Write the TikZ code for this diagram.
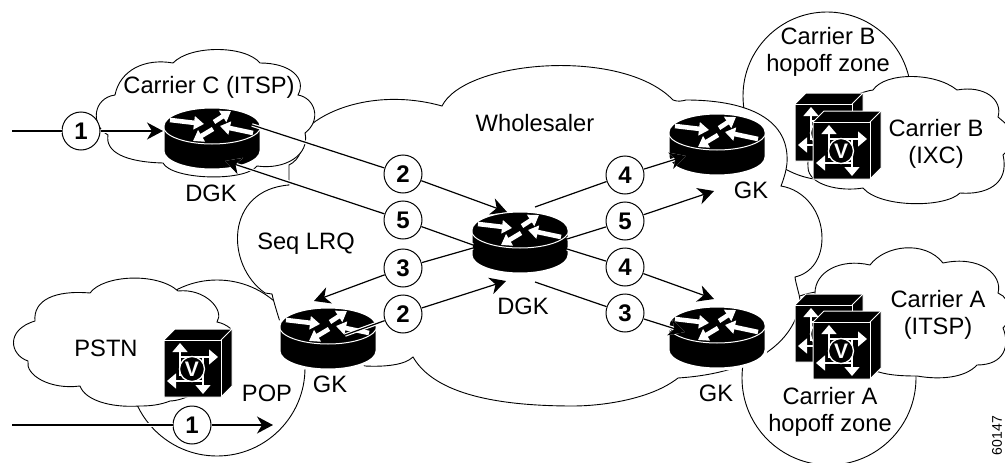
\documentclass[tikz,border=0pt]{standalone}
\usepackage{fontspec}
\setmainfont{Liberation Sans}
\usetikzlibrary{arrows.meta}

\tikzset{
	zone/.style={draw,fill=white,line width=0.9pt},
	lbl/.style={font=\fontsize{23.7}{27}\selectfont,align=center,inner sep=0pt},
	num/.style={circle,draw,fill=white,line width=1pt,minimum size=38pt,inner sep=0pt,font=\bfseries\fontsize{24}{24}\selectfont},
	link/.style={line width=1.2pt,preaction={draw,white,line width=3.6pt}},
	linkto/.style={link,-{Stealth[length=16pt,width=17pt,inset=5pt]}},
	rarrow/.style={white,line width=4.6pt,-{Triangle[length=10pt,width=13pt]}},
	garrow/.style={white,line width=1.3pt,-{Triangle[length=9pt,width=15pt]}}
}

\newcommand{\routerdev}[3]{
	\node[minimum width=98pt,minimum height=63pt,inner sep=0pt] (#1) at (#2,#3+12.5) {};
	\begin{scope}[shift={(#2,#3)}]
		\draw[fill=black,draw=white,line width=3pt] (-49,0) arc [start angle=180,end angle=360,x radius=49,y radius=19] -- (49,25) arc [start angle=0,end angle=180,x radius=49,y radius=19] -- cycle;
		\draw[white,line width=1pt] (-49,0) arc [start angle=180,end angle=0,x radius=49,y radius=18];
		\draw[rarrow] (-42,-6) -- (-8,-2);
		\draw[rarrow] (2,-4) -- (19,-15);
		\draw[rarrow] (41,7) -- (8,0);
		\draw[rarrow] (1,3) -- (-19,15);
	\end{scope}
}

\newcommand{\gatewaydev}[3]{
	\begin{scope}[shift={(#2,#3)}]
		\draw[fill=black,draw=white,line width=1pt] (0,0) -- (11,-11) -- (68,-11) -- (68,46) -- (57,57) -- (0,57) -- cycle;
		\draw[white,line width=1pt] (0,0) -- (57,0) -- (57,57);
		\draw[white,line width=1pt] (57,0) -- (68,-11);
		\draw[garrow] (16,36) -- (16,3);
		\draw[garrow] (16,17) -- (54,17);
		\draw[garrow] (39,17) -- (39,54);
		\draw[garrow] (39,41) -- (3,41);
		\node[circle,draw=white,fill=black,line width=1.3pt,minimum size=25pt,inner sep=0pt,text=white,font=\bfseries\fontsize{21}{21}\selectfont] (#1) at (28,29) {V};
	\end{scope}
}

\begin{document}
\begin{tikzpicture}[x=1pt,y=-1pt]
	\useasboundingbox (0,0) rectangle (1005,463);

	\draw[zone] (217,368) circle [radius=88];
	\draw[zone] (827,96) circle [radius=84];
	\draw[zone] (829,378) circle [radius=87];

	\draw[zone] (289,185) -- (289,165) .. controls (300,160) and (305,145) .. (305,130)
		.. controls (330,105) and (385,90) .. (442,106)
		.. controls (465,60) and (622,47) .. (673,100)
		.. controls (678,102) and (682,101) .. (686,100)
		.. controls (740,100) and (790,115) .. (787,163)
		.. controls (786,172) and (784,178) .. (781,186)
		.. controls (805,190) and (822,212) .. (822,238)
		.. controls (822,258) and (812,273) .. (795,277)
		.. controls (796,285) and (799,292) .. (800,300)
		.. controls (798,330) and (770,372) .. (678,378)
		.. controls (650,400) and (600,406) .. (573,406)
		.. controls (500,406) and (435,395) .. (413,357)
		.. controls (405,365) and (385,367) .. (365,366)
		-- (280,322)
		.. controls (277,312) and (274,303) .. (272,294)
		-- (265,293)
		.. controls (225,265) and (225,190) .. (289,185) -- cycle;

	\draw[zone] (115,95) .. controls (93,98) and (90,125) .. (108,135)
		.. controls (105,152) and (125,162) .. (163,163)
		.. controls (172,180) and (245,182) .. (257,166)
		.. controls (285,170) and (310,155) .. (305,133)
		.. controls (322,120) and (315,98) .. (298,95)
		.. controls (307,78) and (290,63) .. (260,63)
		.. controls (245,45) and (190,45) .. (173,63)
		.. controls (145,58) and (120,70) .. (115,95) -- cycle;

	\draw[zone] (35,321) .. controls (33,300) and (55,290) .. (90,293)
		.. controls (103,275) and (157,272) .. (178,291)
		.. controls (205,288) and (225,310) .. (217,322)
		.. controls (222,323) and (226,325) .. (230,328)
		.. controls (240,360) and (200,400) .. (170,401)
		.. controls (160,405) and (150,406) .. (140,406)
		.. controls (110,408) and (85,400) .. (80,386)
		.. controls (50,390) and (25,375) .. (28,361)
		.. controls (10,355) and (5,330) .. (35,321) -- cycle;

	\draw[zone] (873,90) .. controls (885,72) and (935,72) .. (957,90)
		.. controls (985,85) and (1003,100) .. (998,117)
		-- (1005,123)
		.. controls (1012,135) and (1010,150) .. (1003,155)
		.. controls (1010,185) and (985,195) .. (960,193)
		.. controls (945,208) and (880,208) .. (863,188)
		.. controls (840,192) and (808,185) .. (808,167)
		.. controls (806,130) and (840,95) .. (873,90) -- cycle;

	\draw[zone] (815,293) .. controls (815,272) and (840,258) .. (870,265)
		.. controls (885,245) and (925,240) .. (943,263)
		.. controls (980,255) and (1003,275) .. (998,293)
		-- (1003,296)
		.. controls (1012,305) and (1012,320) .. (1003,328)
		.. controls (1010,345) and (1005,365) .. (977,365)
		.. controls (965,378) and (940,380) .. (917,376)
		.. controls (900,376) and (885,375) .. (873,370)
		.. controls (850,370) and (815,340) .. (815,293) -- cycle;

	\routerdev{rtc}{212}{126}
	\routerdev{rtm}{520}{230}
	\routerdev{rtb}{717}{132}
	\routerdev{rta}{717}{325}
	\routerdev{rtp}{328}{326}

	\gatewaydev{gwp}{164}{340}
	\gatewaydev{gwbr}{795}{104}
	\gatewaydev{gwbf}{813}{122}
	\gatewaydev{gwar}{795}{305}
	\gatewaydev{gwaf}{813}{322}

	\node[num] (n1a) at (81,131) {1};
	\node[num] (n1b) at (192,425) {1};
	\node[num] (n2a) at (403,174) {2};
	\node[num] (n5a) at (403,220) {5};
	\node[num] (n3a) at (403,268) {3};
	\node[num] (n2b) at (403,314) {2};
	\node[num] (n4a) at (625,175) {4};
	\node[num] (n5b) at (625,221) {5};
	\node[num] (n4b) at (625,267) {4};
	\node[num] (n3b) at (625,313) {3};

	\coordinate (in1a) at (12,131);
	\coordinate (in1b) at (12,425);
	\coordinate (to1a) at (163,131);
	\coordinate (to1b) at (273,425);
	\coordinate (fr2a) at (252,125);
	\coordinate (to2a) at (507,212);
	\coordinate (fr5a) at (473,245);
	\coordinate (to5a) at (225,161);
	\coordinate (fr3a) at (473,248);
	\coordinate (to3a) at (314,301);
	\coordinate (fr2b) at (345,335);
	\coordinate (to2b) at (506,281);
	\coordinate (fr4a) at (535,207);
	\coordinate (to4a) at (686,156);
	\coordinate (fr5b) at (567,239);
	\coordinate (to5b) at (714,191);
	\coordinate (fr4b) at (567,249);
	\coordinate (to4b) at (714,299);
	\coordinate (fr3b) at (535,282);
	\coordinate (to3b) at (685,332);

	\draw[link] (in1a) -- (n1a);
	\draw[linkto] (n1a) -- (to1a);
	\draw[link] (in1b) -- (n1b);
	\draw[linkto] (n1b) -- (to1b);
	\draw[link] (fr2a) -- (n2a);
	\draw[linkto] (n2a) -- (to2a);
	\draw[link] (fr5a) -- (n5a);
	\draw[linkto] (n5a) -- (to5a);
	\draw[link] (fr3a) -- (n3a);
	\draw[linkto] (n3a) -- (to3a);
	\draw[link] (fr2b) -- (n2b);
	\draw[linkto] (n2b) -- (to2b);
	\draw[link] (fr4a) -- (n4a);
	\draw[linkto] (n4a) -- (to4a);
	\draw[link] (fr5b) -- (n5b);
	\draw[linkto] (n5b) -- (to5b);
	\draw[link] (fr4b) -- (n4b);
	\draw[linkto] (n4b) -- (to4b);
	\draw[link] (fr3b) -- (n3b);
	\draw[linkto] (n3b) -- (to3b);

	\node[lbl] (ccarrier) at (209,87) {Carrier C (ITSP)};
	\node[lbl] (cwhole) at (535,123) {Wholesaler};
	\node[lbl] (cseq) at (306,244) {Seq LRQ};
	\node[lbl] (cpstn) at (106,348) {PSTN};
	\node[lbl] (cpop) at (267,393) {POP};
	\node[lbl] (cdgka) at (211,193) {DGK};
	\node[lbl] (cdgkb) at (523,306) {DGK};
	\node[lbl] (cgkb) at (751,190) {GK};
	\node[lbl] (cgka) at (716,393) {GK};
	\node[lbl] (cgkp) at (330,384) {GK};
	\node[lbl] (chopb) at (828,52) {Carrier B\\hopoff zone};
	\node[lbl] (ccarb) at (936,144) {Carrier B\\(IXC)};
	\node[lbl] (ccara) at (938,315) {Carrier A\\(ITSP)};
	\node[lbl] (chopa) at (830,412) {Carrier A\\hopoff zone};
	\node[rotate=90,anchor=east,inner sep=0pt,font=\fontsize{14}{14}\selectfont] (cfig) at (997,416) {60147};
\end{tikzpicture}
\end{document}
